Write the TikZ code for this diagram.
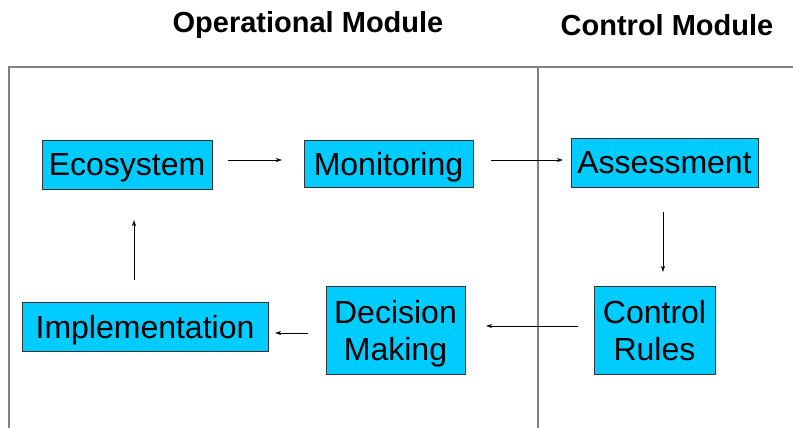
\documentclass[tikz,border=0pt]{standalone}
\usepackage{fontspec}
\setmainfont{Liberation Sans}
\usetikzlibrary{arrows.meta}

\definecolor{boxblue}{RGB}{0,204,255}

\tikzset{
  box/.style={draw=black!80, fill=boxblue, inner sep=0pt, align=center, text depth=0pt, font=\fontsize{32}{37}\selectfont},
  head/.style={font=\bfseries\fontsize{29}{31}\selectfont},
  flow/.style={-{Stealth[length=6pt,width=4pt]}, black, thin},
}

\begin{document}
\begin{tikzpicture}[x=1pt, y=-1pt]
    \useasboundingbox (0,0) rectangle (793,428);
    \draw[gray, line width=1.4pt] (9,428) -- (9,67) -- (793,67);
    \draw[gray, line width=1.4pt] (538,67) -- (538,428);

    \node[head] (op) at (308,25.5) {Operational Module};
    \node[head] (cm) at (667,25.5) {Control Module};

    % name / x / y / width / height / text
    \foreach \n/\x/\y/\w/\h/\t in {
        eco/127/164.5/170/49/Ecosystem,
        mon/388.5/163.5/169/47/Monitoring,
        ass/664.5/162.5/187/49/Assessment,
        rul/654.5/330/121/88/{Control\\Rules},
        dec/395.5/330/139/88/{Decision\\Making},
        imp/145/326.5/246/49/Implementation}
        \node[box, minimum width=\w pt, minimum height=\h pt] (\n) at (\x,\y) {\t};

    \draw[flow, shorten <=16pt, shorten >=22pt] ([yshift=4.5pt]eco.east) -- ([yshift=4.5pt]eco.east -| mon.west);
    \draw[flow, shorten <=18pt, shorten >=8pt] ([yshift=3.5pt]mon.east) -- ([yshift=3.5pt]mon.east -| ass.west);
    \draw[flow, shorten <=25pt, shorten >=14pt] ([xshift=-1.5pt]ass.south) -- ([xshift=-1.5pt]ass.south |- rul.north);
    \draw[flow, shorten <=16pt, shorten >=21pt] ([yshift=4pt]rul.west) -- ([yshift=4pt]rul.west -| dec.east);
    \draw[flow, shorten <=18pt, shorten >=7pt] ([yshift=-3pt]dec.west) -- ([yshift=-3pt]dec.west -| imp.east);
    \draw[flow, shorten <=22pt, shorten >=31pt] ([xshift=-11pt]imp.north) -- ([xshift=-11pt]imp.north |- eco.south);

\end{tikzpicture}
\end{document}
